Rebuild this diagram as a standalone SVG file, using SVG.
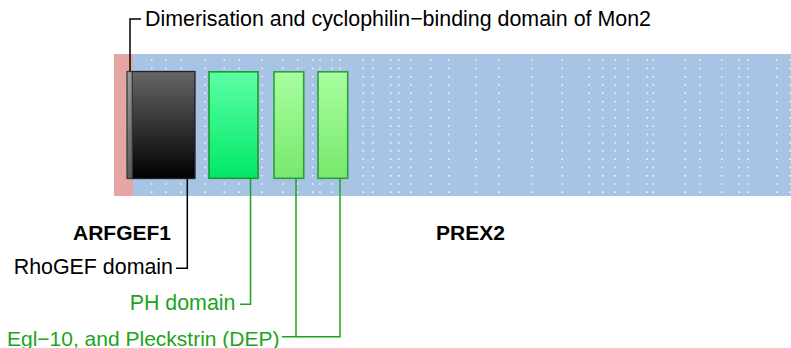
<svg xmlns="http://www.w3.org/2000/svg" width="791" height="348" viewBox="0 0 791 348">
<style>
text{font-family:"Liberation Sans",Arial,sans-serif;font-size:21.4px}
.b{font-weight:bold;fill:#000;font-size:21px}
.k{fill:#000}
.g{fill:#1aa51a}
.s{font-size:21px}
.dots line{stroke:#fff;stroke-width:1.6;stroke-dasharray:1.6 6.65;opacity:0.85}
.ck{fill:none;stroke:#000;stroke-width:1.5}
.cg{fill:none;stroke:#1aa51a;stroke-width:1.5}
</style>
<defs>
<linearGradient id="gk" x1="0" y1="0" x2="0" y2="1"><stop offset="0" stop-color="#666"/><stop offset="1" stop-color="#000"/></linearGradient>
<linearGradient id="gs" x1="0" y1="0" x2="0" y2="1"><stop offset="0" stop-color="#9a9a9a"/><stop offset="1" stop-color="#5a5a5a"/></linearGradient>
<linearGradient id="g1" x1="0" y1="0" x2="0" y2="1"><stop offset="0" stop-color="#5cffa6"/><stop offset="1" stop-color="#00e868"/></linearGradient>
<linearGradient id="g2" x1="0" y1="0" x2="0" y2="1"><stop offset="0" stop-color="#a8ffa0"/><stop offset="1" stop-color="#78e86c"/></linearGradient>
</defs>
<g id="background">
<rect x="114" y="54" width="19" height="142" fill="#e5a5a5"/>
<rect x="133" y="54" width="658" height="142" fill="#a8c4e4"/>
<g class="dots">
<line x1="151.7" y1="59.5" x2="151.7" y2="194"/><line x1="166" y1="59.5" x2="166" y2="194"/><line x1="181" y1="59.5" x2="181" y2="194"/><line x1="205" y1="59.5" x2="205" y2="194"/><line x1="224.3" y1="59.5" x2="224.3" y2="194"/><line x1="239.3" y1="59.5" x2="239.3" y2="194"/><line x1="262" y1="59.5" x2="262" y2="194"/><line x1="283" y1="59.5" x2="283" y2="194"/><line x1="297.7" y1="59.5" x2="297.7" y2="194"/><line x1="312.7" y1="59.5" x2="312.7" y2="194"/><line x1="320" y1="59.5" x2="320" y2="194"/><line x1="331.7" y1="59.5" x2="331.7" y2="194"/><line x1="340" y1="59.5" x2="340" y2="194"/><line x1="363.3" y1="59.5" x2="363.3" y2="194"/><line x1="372.7" y1="59.5" x2="372.7" y2="194"/><line x1="391" y1="59.5" x2="391" y2="194"/><line x1="398.7" y1="59.5" x2="398.7" y2="194"/><line x1="411" y1="59.5" x2="411" y2="194"/><line x1="431" y1="59.5" x2="431" y2="194"/><line x1="448.7" y1="59.5" x2="448.7" y2="194"/><line x1="475.7" y1="59.5" x2="475.7" y2="194"/><line x1="499" y1="59.5" x2="499" y2="194"/><line x1="531.7" y1="59.5" x2="531.7" y2="194"/><line x1="562.3" y1="59.5" x2="562.3" y2="194"/><line x1="589" y1="59.5" x2="589" y2="194"/><line x1="602.7" y1="59.5" x2="602.7" y2="194"/><line x1="615.3" y1="59.5" x2="615.3" y2="194"/><line x1="628.3" y1="59.5" x2="628.3" y2="194"/><line x1="647.3" y1="59.5" x2="647.3" y2="194"/><line x1="653.3" y1="59.5" x2="653.3" y2="194"/><line x1="685.3" y1="59.5" x2="685.3" y2="194"/><line x1="700" y1="59.5" x2="700" y2="194"/><line x1="721.7" y1="59.5" x2="721.7" y2="194"/><line x1="739.3" y1="59.5" x2="739.3" y2="194"/><line x1="748" y1="59.5" x2="748" y2="194"/><line x1="776.7" y1="59.5" x2="776.7" y2="194"/><line x1="790" y1="59.5" x2="790" y2="194"/>
</g>
</g>
<g id="connectors">
<polyline class="ck" points="130,72 130,19 141,19"/>
<polyline class="ck" points="187.3,178 187.3,268.3 176,268.3"/>
<polyline class="cg" points="250.5,178 250.5,304.3 240,304.3"/>
<polyline class="cg" points="296,178 296,336.7 282,336.7"/>
<polyline class="cg" points="340,178 340,336.7 296,336.7"/>
</g>
<g id="rhogef">
<rect x="132" y="71.5" width="63" height="107" fill="url(#gk)" stroke="#222" stroke-width="1.3"/>
</g>
<g id="dimerisation">
<rect x="127" y="71.5" width="5.3" height="107" fill="url(#gs)" stroke="#333" stroke-width="1.2"/>
</g>
<g id="ph">
<rect x="209" y="71.8" width="49" height="106.5" fill="url(#g1)" stroke="#1a9a2a" stroke-width="1.6"/>
</g>
<g id="dep1">
<rect x="274" y="71.8" width="29.7" height="106.5" fill="url(#g2)" stroke="#2aa03a" stroke-width="1.6"/>
</g>
<g id="dep2">
<rect x="318" y="71.8" width="29.7" height="106.5" fill="url(#g2)" stroke="#2aa03a" stroke-width="1.6"/>
</g>
<g id="labels">
<text x="145" y="26" class="k">Dimerisation and cyclophilin−binding domain of Mon2</text>
<text x="171" y="240" class="b" text-anchor="end">ARFGEF1</text>
<text x="436" y="240" class="b">PREX2</text>
<text x="173" y="274" class="k" text-anchor="end">RhoGEF domain</text>
<text x="235.5" y="310" class="g" text-anchor="end">PH domain</text>
<text x="279.5" y="345.5" class="g s" text-anchor="end">Egl−10, and Pleckstrin (DEP)</text>
</g>
</svg>
